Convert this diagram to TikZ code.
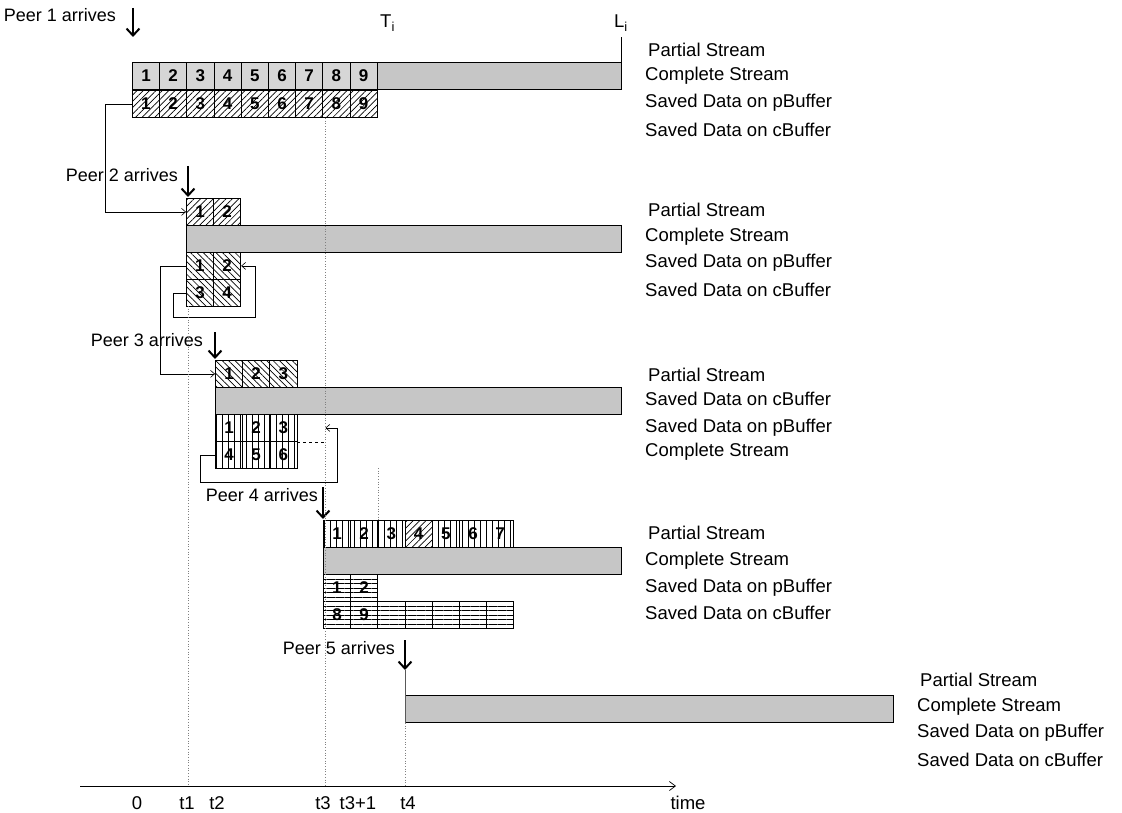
\documentclass[tikz,border=0pt]{standalone}
\usepackage{fontspec}
\setmainfont{Liberation Sans}
\usetikzlibrary{arrows.meta,patterns.meta,positioning}

\begin{document}
\begin{tikzpicture}[x=1pt,y=-1pt,
  label node/.style={anchor=west,inner sep=0pt,font=\fontsize{18.5}{20}\selectfont},
  peer node/.style={anchor=east,inner sep=0pt,font=\fontsize{18}{20}\selectfont},
  cell node/.style={draw,line width=0.8pt,minimum width=27.2pt,minimum height=27pt,
    inner sep=0pt,anchor=north west,font=\fontsize{17}{17}\selectfont\bfseries},
  gray cell/.style={cell node,fill=gray!32},
  ne cell/.style={cell node,pattern={Lines[angle=45,distance=4.5pt,line width=0.7pt]}},
  nw cell/.style={cell node,pattern={Lines[angle=-45,distance=4.5pt,line width=0.7pt]}},
  v cell/.style={cell node,pattern={Lines[angle=90,distance=6pt,line width=0.8pt]}},
  h cell/.style={cell node,pattern={Lines[angle=0,distance=4.5pt,line width=0.7pt]}},
  bar node/.style={draw,line width=0.8pt,fill=gray!45,minimum height=27pt,inner sep=0pt,anchor=north west},
  arrive/.style={-{Straight Barb[length=7pt,width=13pt]},line width=2pt},
  link/.style={-{Straight Barb[length=4pt,width=7pt]},line width=0.6pt},
  timeline/.style={dotted,gray,line width=0.7pt}]

  \useasboundingbox (0,0) rectangle (1122,813);

  % peer 1
  \node[peer node] (p1) at (116,15) {Peer 1 arrives};
  \coordinate (a1s) at (133,8);
  \coordinate (a1e) at (133,37);
  \draw[arrive] (a1s) -- (a1e);
  \foreach \i in {1,...,9}
    \node[gray cell] (cs1-\i) at ({132+(\i-1)*27.2},62) {\i};
  \node[bar node,minimum width=244pt] (cs1) at (377,62) {};
  \foreach \i in {1,...,9}
    \node[ne cell] (pb1-\i) at ({132+(\i-1)*27.2},90) {\i};
  \node[label node] (Ti) at (380,23) {T\textsubscript{i}};
  \node[label node] (Li) at (614,23) {L\textsubscript{i}};
  \draw[line width=0.8pt] (cs1.north east) -- ++(0,-25);
  \node[label node] (l1a) at (648,50) {Partial Stream};
  \node[label node] (l1b) at (645,76) {Complete Stream};
  \node[label node] (l1c) at (645,103) {Saved Data on pBuffer};
  \node[label node] (l1d) at (645,130) {Saved Data on cBuffer};

  % peer 2
  \node[peer node] (p2) at (178,175) {Peer 2 arrives};
  \coordinate (a2s) at (188,166);
  \coordinate (a2e) at (188,197);
  \draw[arrive] (a2s) -- (a2e);
  \foreach \i in {1,2}
    \node[ne cell] (ps2-\i) at ({186+(\i-1)*27.2},198) {\i};
  \node[bar node,minimum width=435pt] (cs2) at (186,225) {};
  \foreach \i in {1,2}
    \node[nw cell] (pb2-\i) at ({186+(\i-1)*27.2},252) {\i};
  \foreach \i/\t in {1/3,2/4}
    \node[nw cell] (cb2-\i) at ({186+(\i-1)*27.2},279) {\t};
  \node[label node] (l2a) at (648,210) {Partial Stream};
  \node[label node] (l2b) at (645,237) {Complete Stream};
  \node[label node] (l2c) at (645,263) {Saved Data on pBuffer};
  \node[label node] (l2d) at (645,290) {Saved Data on cBuffer};
  \draw[link] (pb1-1.west) -- ++(-27,0) |- (ps2-1.west);
  \draw[link] (cb2-1.west) -- ++(-13,0) -- ++(0,24) -| ([xshift=14pt]pb2-2.east) -- (pb2-2.east);

  % peer 3
  \node[peer node] (p3) at (203,340) {Peer 3 arrives};
  \coordinate (a3s) at (215,332);
  \coordinate (a3e) at (215,359);
  \draw[arrive] (a3s) -- (a3e);
  \foreach \i in {1,2,3}
    \node[nw cell] (ps3-\i) at ({215+(\i-1)*27.2},360) {\i};
  \node[bar node,minimum width=406pt] (cs3) at (215,387) {};
  \foreach \i in {1,...,6}
    \node[v cell] (vb3-\i) at ({215+mod(\i-1,3)*27.2},{414+int((\i-1)/3)*27}) {\i};
  \draw[dashed,line width=0.6pt] (vb3-3.south east) -- ++(28,0);
  \node[label node] (l3a) at (648,375) {Partial Stream};
  \node[label node] (l3b) at (645,399) {Saved Data on cBuffer};
  \node[label node] (l3c) at (645,428) {Saved Data on pBuffer};
  \node[label node] (l3d) at (645,452) {Complete Stream};
  \draw[link] (pb2-1.west) -- ++(-26,0) |- (ps3-1.west);
  \draw[link] (vb3-4.west) -- ++(-15,0) -- ++(0,27) -| ([xshift=40pt]vb3-3.east) -- ([xshift=28pt]vb3-3.east);

  % peer 4
  \node[peer node] (p4) at (318,495) {Peer 4 arrives};
  \coordinate (a4s) at (323,487);
  \coordinate (a4e) at (323,519);
  \draw[arrive] (a4s) -- (a4e);
  \foreach \i in {1,2,3,5,6,7}
    \node[v cell] (ps4-\i) at ({323+(\i-1)*27.2},520) {\i};
  \node[ne cell] (ps4-4) at ({323+3*27.2},520) {4};
  \node[bar node,minimum width=298pt] (cs4) at (323,547) {};
  \foreach \i in {1,2}
    \node[h cell] (pb4-\i) at ({323+(\i-1)*27.2},574) {\i};
  \foreach \i/\t in {1/8,2/9,3/,4/,5/,6/,7/}
    \node[h cell] (cb4-\i) at ({323+(\i-1)*27.2},601) {\t};
  \node[label node] (l4a) at (648,533) {Partial Stream};
  \node[label node] (l4b) at (645,561) {Complete Stream};
  \node[label node] (l4c) at (645,588) {Saved Data on pBuffer};
  \node[label node] (l4d) at (645,613) {Saved Data on cBuffer};

  % peer 5
  \node[peer node] (p5) at (395,648) {Peer 5 arrives};
  \coordinate (a5s) at (405,640);
  \coordinate (a5e) at (405,670);
  \draw[arrive] (a5s) -- (a5e);
  \node[bar node,minimum width=488pt] (cs5) at (405,695) {};
  \draw[gray!70!black,line width=1pt] (a5e) -- (cs5.south west);
  \node[label node] (l5a) at (920,680) {Partial Stream};
  \node[label node] (l5b) at (917,707) {Complete Stream};
  \node[label node] (l5c) at (917,733) {Saved Data on pBuffer};
  \node[label node] (l5d) at (917,760) {Saved Data on cBuffer};

  % time axis
  \coordinate (ax0) at (80,786);
  \coordinate (ax1) at (676,786);
  \draw[-{Straight Barb[length=6pt,width=9pt]},line width=0.7pt] (ax0) -- (ax1);
  \coordinate (t1top) at (188,306);
  \coordinate (t3top) at (325,118);
  \coordinate (t31top) at (378,468);
  \draw[timeline] (t1top) -- (t1top |- ax0);
  \draw[timeline] (t3top) -- (t3top |- ax0);
  \draw[timeline] (t31top) -- (t31top |- ps4-1.north);
  \draw[timeline] (cs5.south west) -- (cs5.south west |- ax0);
  \foreach \x/\t in {137/0,187/t1,217/t2,323/t3,358/t3+1,408/t4,688/time}
    \node[font=\fontsize{18.5}{20}\selectfont,inner sep=0pt] (tick-\t) at (\x,803) {\t};
\end{tikzpicture}
\end{document}
